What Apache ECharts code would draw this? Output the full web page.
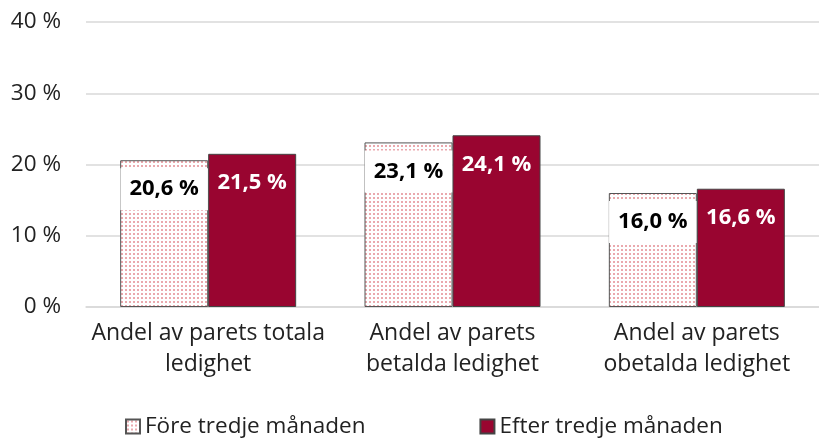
<!DOCTYPE html>
<html>
<head>
<meta charset="utf-8">
<script src="https://cdn.jsdelivr.net/npm/echarts@6/dist/echarts.min.js"></script>
<style>
  html, body { margin: 0; padding: 0; background: #fff; }
  #chart { width: 819px; height: 441px; }
</style>
</head>
<body>
<div id="chart"></div>
<script>
const categories = [
  'Andel av parets totala\nledighet',
  'Andel av parets\nbetalda ledighet',
  'Andel av parets\nobetalda ledighet'
]
const seriesNames = ['Före tredje månaden', 'Efter tredje månaden']
const fore = [20.6, 23.1, 16.0]
const efter = [21.5, 24.1, 16.6]
const yTicks = [0, 10, 20, 30, 40]

const FONT = '"Open Sans", "Noto Sans", sans-serif'
const fmt = v => v.toFixed(1).replace('.', ',') + ' %'

// dotted fill for the first series
function dotPattern() {
  const c = document.createElement('canvas')
  c.width = 4
  c.height = 4
  const ctx = c.getContext('2d')
  ctx.fillStyle = '#ffffff'
  ctx.fillRect(0, 0, 4, 4)
  ctx.fillStyle = '#eaa9ae'
  ctx.fillRect(1, 1, 2, 2)
  return c
}

const chart = echarts.init(document.getElementById('chart'))
chart.setOption({
  animation: false,
  textStyle: { fontFamily: FONT },
  grid: { left: 86, top: 22, width: 744, height: 285 },
  legend: {
    top: 410,
    left: 120,
    itemWidth: 14,
    itemHeight: 14,
    itemGap: 114,
    icon: 'rect',
    textStyle: { fontSize: 22.5, color: '#222', fontFamily: FONT },
    data: seriesNames
  },
  xAxis: {
    type: 'category',
    data: categories,
    axisTick: { show: false },
    axisLine: { lineStyle: { color: '#d9d9d9', width: 1.5 } },
    axisLabel: { interval: 0, fontSize: 23, lineHeight: 31, color: '#222', margin: 11 }
  },
  yAxis: {
    type: 'value',
    min: 0,
    max: 40,
    interval: 10,
    axisLabel: {
      fontSize: 22.5,
      color: '#222',
      margin: 25,
      formatter: v => yTicks.includes(v) ? v + ' %' : ''
    },
    splitLine: { lineStyle: { color: '#d9d9d9', width: 1.5 } }
  },
  series: [
    {
      name: seriesNames[0],
      type: 'bar',
      data: fore,
      barWidth: 88,
      barGap: '0%',
      itemStyle: {
        color: { image: dotPattern(), repeat: 'repeat' },
        borderColor: '#555',
        borderWidth: 1
      },
      label: {
        show: true,
        position: 'insideTop',
        distance: 8,
        formatter: p => fmt(p.value),
        fontSize: 22,
        fontWeight: 'bold',
        color: '#000',
        backgroundColor: '#fff',
        padding: [10, 9, 10, 9]
      }
    },
    {
      name: seriesNames[1],
      type: 'bar',
      data: efter,
      barWidth: 88,
      itemStyle: { color: '#990530', borderColor: '#444', borderWidth: 1 },
      label: {
        show: true,
        position: 'insideTop',
        distance: 18,
        formatter: p => fmt(p.value),
        fontSize: 22,
        fontWeight: 'bold',
        color: '#fff'
      }
    }
  ]
})
</script>
</body>
</html>
